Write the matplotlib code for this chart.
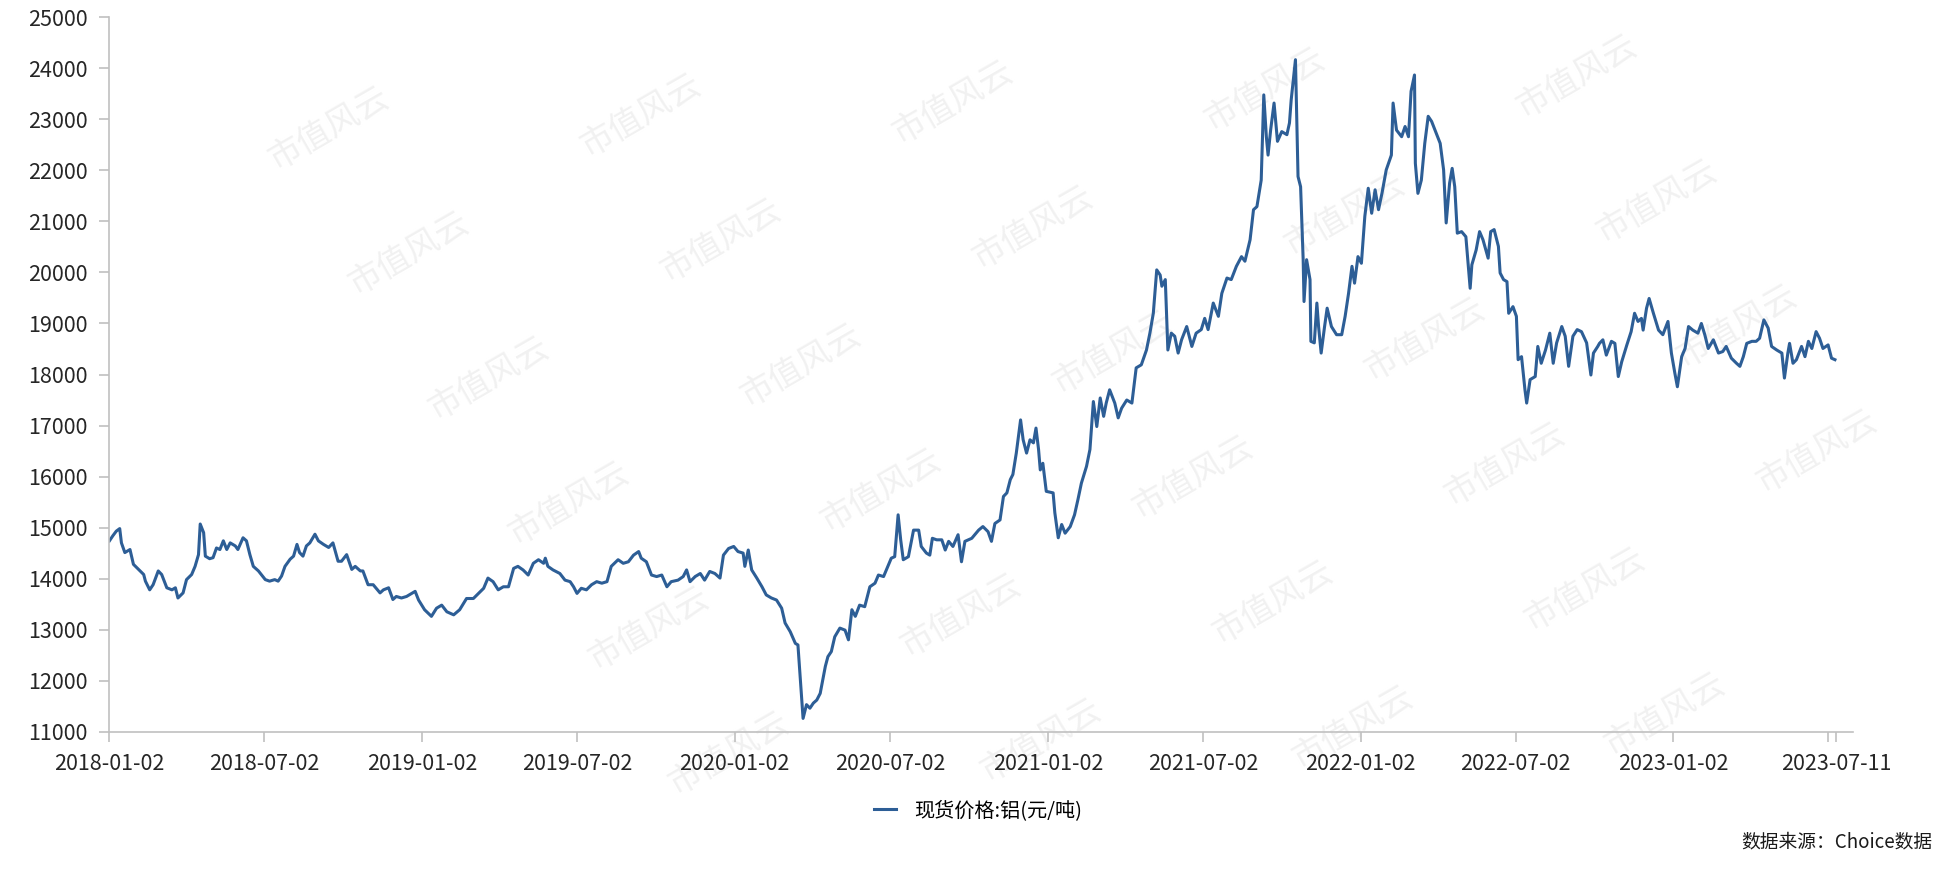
import pandas as pd
import matplotlib
matplotlib.use("Agg")
import matplotlib.pyplot as plt

plt.rcParams['font.family'] = ['Noto Sans CJK SC', 'DejaVu Sans']

# 现货价格:铝(元/吨)
START = "2018-01-02"
day_offsets = [
    0, 4, 8, 12, 14, 18, 24, 28, 34, 40, 42, 47, 51, 57, 61, 67, 73, 77, 80, 86,
    90, 96, 100, 104, 106, 110, 112, 117, 121, 125, 129, 133, 137, 141, 147, 150, 156, 160, 164, 168,
    174, 182, 187, 193, 197, 201, 205, 211, 215, 219, 222, 226, 230, 234, 240, 244, 250, 256, 261, 267,
    271, 277, 283, 287, 293, 296, 302, 308, 316, 320, 326, 331, 335, 341,
    347, 357, 361, 368, 376, 382, 388, 394, 402, 409, 417, 425, 431, 437, 442, 448, 454, 460, 466, 472,
    477, 483, 489, 495, 501, 507, 509, 512, 518, 526, 532, 538, 542, 546, 551, 557, 563, 569, 575, 581,
    586, 594, 600, 606, 612, 618, 621, 627, 633, 639, 645, 651, 656, 664, 670, 674, 678, 684, 690,
    695, 701, 707, 713, 717, 723, 729, 734, 740, 742, 746, 750, 756, 762, 767, 773, 779, 785, 789, 795,
    801, 804, 808, 810, 814, 818, 822, 826, 830, 836, 839, 843, 847, 853, 859, 863, 867, 871, 876, 882,
    888, 894, 898, 904, 909, 913, 917, 921, 924, 927, 933, 939, 945, 948, 954, 958, 961, 966, 972, 976,
    980, 985, 991, 995, 999, 1007, 1015, 1020, 1026, 1030, 1034, 1040,
    1044, 1048, 1052, 1055, 1059, 1064, 1067, 1071, 1075, 1079, 1082, 1085, 1087, 1090, 1094, 1102, 1104, 1108, 1112, 1116,
    1122, 1127, 1131, 1135, 1141, 1145, 1149, 1153, 1157, 1161, 1164, 1168, 1174, 1178, 1182, 1188, 1194, 1199, 1205, 1211,
    1215, 1219, 1223, 1227, 1229, 1233, 1236, 1240, 1244, 1248, 1252, 1258, 1264, 1269, 1275, 1279, 1283, 1289, 1295, 1299,
    1305, 1310, 1316, 1322, 1326, 1332, 1336, 1340, 1345, 1348, 1351, 1353, 1356, 1360, 1364, 1369, 1375, 1378, 1380, 1385,
    1388, 1391, 1394, 1395, 1398, 1402, 1403, 1407, 1410, 1412, 1415, 1419, 1422, 1427, 1433, 1439, 1443, 1447, 1451, 1454,
    1458, 1462, 1466, 1470, 1474, 1478, 1482, 1486, 1491, 1497, 1499, 1503, 1509, 1513, 1517, 1520, 1524, 1525, 1528, 1532,
    1536, 1540, 1544, 1548, 1554, 1558, 1561, 1565, 1568, 1571, 1574, 1579, 1584, 1589, 1591, 1596, 1600, 1604, 1610, 1613,
    1617, 1622, 1624, 1628, 1632, 1634, 1639, 1643, 1645, 1649, 1653, 1655, 1659, 1665, 1668, 1672, 1677, 1682, 1686, 1690,
    1696, 1700, 1704, 1709, 1714, 1719, 1725, 1730, 1733, 1738,
    1740, 1744, 1748, 1754, 1758, 1762, 1766, 1772, 1777, 1781, 1785, 1789, 1791, 1795, 1798, 1803, 1809, 1814, 1820, 1824,
    1828, 1831, 1836, 1840, 1844, 1849, 1855, 1859, 1863, 1867, 1873, 1879, 1884, 1888, 1894, 1900, 1904, 1908, 1912, 1918,
    1923, 1927, 1932, 1937, 1941, 1947, 1953, 1956, 1960, 1962, 1966, 1970, 1976, 1980, 1984, 1988, 1993, 1997, 2001, 2007,
    2011, 2015,
]
prices = [
    14740, 14840, 14930, 14980, 14700, 14510, 14570, 14280, 14180, 14080, 13950, 13780, 13880, 14150, 14080, 13820, 13780, 13820, 13620, 13720,
    13980, 14080, 14240, 14470, 15070, 14900, 14440, 14390, 14410, 14600, 14570, 14740, 14570, 14700, 14640, 14570, 14800, 14740, 14470, 14240,
    14150, 13980, 13950, 13980, 13950, 14050, 14240, 14380, 14440, 14670, 14510, 14440, 14640, 14700, 14870, 14740, 14670, 14610, 14700, 14340,
    14340, 14470, 14180, 14240, 14150, 14150, 13880, 13880, 13720, 13780, 13820, 13590, 13650, 13620,
    13650, 13750, 13580, 13390, 13260, 13420, 13480, 13350, 13290, 13390, 13610, 13610, 13710, 13810, 14010, 13940, 13780, 13840, 13840, 14200,
    14240, 14170, 14070, 14300, 14370, 14300, 14400, 14240, 14170, 14100, 13970, 13940, 13840, 13710, 13810, 13780, 13880, 13940, 13910, 13940,
    14240, 14370, 14300, 14330, 14460, 14530, 14400, 14330, 14070, 14040, 14070, 13840, 13940, 13970, 14040, 14170, 13940, 14040, 14100,
    13970, 14140, 14100, 14010, 14460, 14590, 14630, 14530, 14500, 14240, 14560, 14170, 14010, 13840, 13680, 13620, 13580, 13420, 13130, 12960,
    12730, 12700, 11750, 11260, 11530, 11460, 11560, 11620, 11750, 12280, 12470, 12570, 12860, 13030, 12990, 12800, 13390, 13260, 13480, 13450,
    13840, 13910, 14070, 14040, 14240, 14400, 14430, 15250, 14760, 14370, 14430, 14950, 14950, 14630, 14500, 14460, 14790, 14760, 14760, 14560,
    14730, 14630, 14860, 14330, 14730, 14790, 14950, 15020, 14920, 14730, 15080, 15150,
    15610, 15680, 15940, 16040, 16460, 17110, 16720, 16460, 16720, 16660, 16950, 16530, 16130, 16260, 15710, 15680, 15290, 14800, 15060, 14890,
    15020, 15250, 15550, 15870, 16200, 16530, 17470, 16980, 17540, 17180, 17440, 17700, 17440, 17150, 17340, 17500, 17440, 18130, 18190, 18480,
    18810, 19200, 20050, 19950, 19730, 19860, 18480, 18810, 18750, 18420, 18680, 18940, 18550, 18810, 18880, 19100, 18880, 19400, 19140, 19590,
    19890, 19860, 20120, 20310, 20220, 20640, 21230, 21290, 21810, 23480, 22660, 22300, 22790, 23320, 22570, 22760, 22700, 22930, 23380, 24170,
    21880, 21680, 20250, 19430, 20250, 19860, 18650, 18620, 19400, 18940, 18420, 18940, 19300, 18940, 18780, 18780, 19140, 19590, 20120, 19790,
    20310, 20180, 21100, 21650, 21160, 21620, 21230, 21550, 22010, 22300, 23320, 22790, 22660, 22860, 22660, 23550, 23870, 22140, 21550, 21810,
    22530, 23060, 22960, 22790, 22530, 22010, 20970, 21750, 22040, 21680, 20770, 20800, 20700, 19690, 20150, 20440, 20800, 20640, 20280, 20800,
    20840, 20510, 19990, 19860, 19820, 19200, 19330, 19140, 18290, 18350, 17700, 17440, 17900, 17960, 18550, 18220, 18480, 18810, 18220, 18620,
    18940, 18750, 18160, 18750, 18880, 18840, 18620, 17990, 18420, 18550,
    18610, 18680, 18380, 18650, 18610, 17960, 18250, 18580, 18840, 19200, 19040, 19100, 18870, 19300, 19490, 19200, 18870, 18780, 19040, 18420,
    18030, 17760, 18350, 18510, 18940, 18870, 18810, 19000, 18780, 18510, 18680, 18420, 18450, 18550, 18320, 18220, 18160, 18350, 18610, 18650,
    18650, 18710, 19070, 18910, 18550, 18480, 18420, 17930, 18420, 18610, 18220, 18290, 18550, 18350, 18650, 18510, 18840, 18710, 18510, 18580,
    18320, 18290,
]

tick_dates = ["2018-01-02", "2018-07-02", "2019-01-02", "2019-07-02", "2020-01-02", "2020-07-02",
              "2021-01-02", "2021-07-02", "2022-01-02", "2022-07-02", "2023-01-02", "2023-07-02", "2023-07-11"]
tick_labels = ["2018-01-02", "2018-07-02", "2019-01-02", "2019-07-02", "2020-01-02", "2020-07-02",
               "2021-01-02", "2021-07-02", "2022-01-02", "2022-07-02", "2023-01-02", "", "2023-07-11"]
y_ticks = list(range(11000, 25001, 1000))

series_name = "现货价格:铝(元/吨)"
source_note = "数据来源：Choice数据"
watermark = "市值风云"

LINE = "#2d5e96"
AXIS = "#c0c0c0"
TEXT = "#262626"

start = pd.Timestamp(START)
dates = start + pd.to_timedelta(day_offsets, unit="D")

fig = plt.figure(figsize=(19.37, 8.75), dpi=100)
ax = fig.add_axes([0.0565, 0.1638, 0.9001, 0.8164])
ax.set_facecolor("none")

# faint tiled watermark (only the copies that fit inside the picture)
for i in range(-3, 7):
    for j in range(-1, 7):
        px = 1265 + 312 * i + 80 * j
        py = 90 - 13 * i + 125 * j
        if 80 < px < 1860 and 55 < py < 820:
            fig.text(px / 1937, 1 - py / 875, watermark, fontsize=24, color="#f1f1f1",
                     rotation=30, ha="center", va="center", zorder=-5)

ax.plot(dates, prices, color=LINE, lw=2.2, label=series_name)

ax.set_ylim(11000, 25000)
ax.set_xlim(start, start + pd.Timedelta(days=2036))
ax.set_yticks(y_ticks)
ax.set_xticks(pd.to_datetime(tick_dates))
ax.set_xticklabels(tick_labels)

for s in ["top", "right"]:
    ax.spines[s].set_visible(False)
for s in ["left", "bottom"]:
    ax.spines[s].set_color(AXIS)
    ax.spines[s].set_linewidth(1.2)

ax.tick_params(axis="both", colors=AXIS, labelcolor=TEXT, labelsize=15.5, length=7, width=1.2)
ax.tick_params(axis="y", pad=9)
ax.tick_params(axis="x", pad=8)

ax.legend(loc="center", bbox_to_anchor=(0.505, 0.074), bbox_transform=fig.transFigure,
          frameon=False, fontsize=14.5, handlelength=1.1, handletextpad=0.9)

fig.text(0.9974, 0.038, source_note, ha="right", va="center", fontsize=13.5, color="#1a1a1a")

fig.savefig("out.png", dpi=100)
